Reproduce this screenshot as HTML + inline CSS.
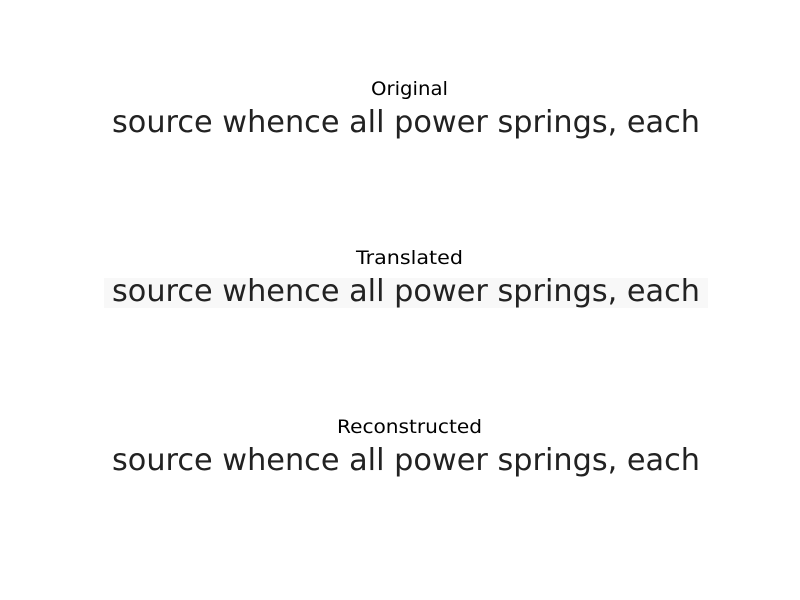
<!DOCTYPE html>
<html><head><style>html,body{margin:0;padding:0;background:#fff}</style></head>
<body>
<svg width="800" height="600" xmlns="http://www.w3.org/2000/svg" style="display:block">
<rect width="800" height="600" fill="#fff"/>
<g font-family="DejaVu Sans, sans-serif" font-size="19" fill="#000">
<text x="371" y="95" textLength="77" lengthAdjust="spacingAndGlyphs">Original</text>
<text x="356" y="264" textLength="107" lengthAdjust="spacingAndGlyphs">Translated</text>
<text x="337" y="433" textLength="145" lengthAdjust="spacingAndGlyphs">Reconstructed</text>
</g>
<rect x="104" y="278" width="604" height="30" fill="#f8f8f8"/>
<g font-family="DejaVu Sans, sans-serif" font-size="30" fill="#222">
<text x="112" y="132" textLength="588" lengthAdjust="spacingAndGlyphs">source whence all power springs, each</text>
<text x="112" y="301" textLength="588" lengthAdjust="spacingAndGlyphs">source whence all power springs, each</text>
<text x="112" y="470" textLength="588" lengthAdjust="spacingAndGlyphs">source whence all power springs, each</text>
</g>
</svg>
</body></html>
